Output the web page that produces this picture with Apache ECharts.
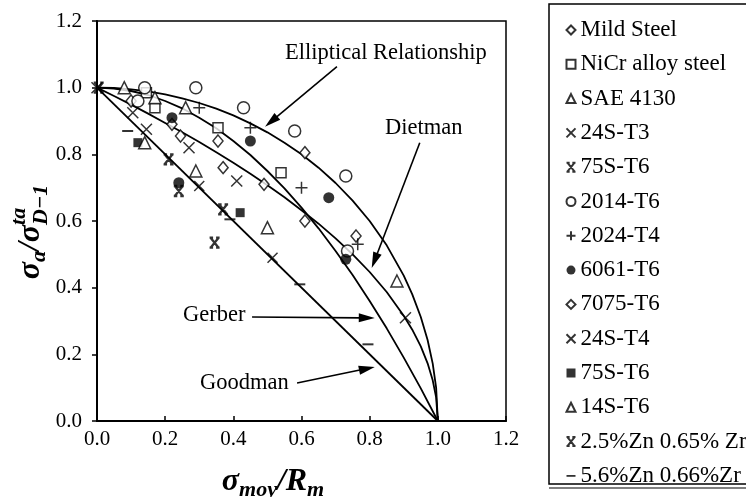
<!DOCTYPE html>
<html>
<head>
<meta charset="utf-8">
<title>Goodman / Gerber / Dietman / Elliptical</title>
<script src="https://cdn.jsdelivr.net/npm/echarts@6/dist/echarts.min.js"></script>
<style>
  html, body { margin: 0; padding: 0; background: #fff; }
  #chart { width: 746px; height: 497px; }
</style>
</head>
<body>
<div id="chart"></div>
<script>
var FONT = '"Liberation Serif", "DejaVu Serif", serif';

// curves (sigma_moy/Rm, sigma_a/sigma_D)
var curveGoodman = [[0, 1], [1, 0]];
var curveGerber = [[0, 1], [0.05, 0.997], [0.1, 0.99], [0.15, 0.978], [0.2, 0.96], [0.25, 0.938], [0.3, 0.91],
                   [0.35, 0.878], [0.4, 0.84], [0.45, 0.798], [0.5, 0.75], [0.55, 0.698], [0.6, 0.64], [0.65, 0.578],
                   [0.7, 0.51], [0.75, 0.438], [0.8, 0.36], [0.85, 0.278], [0.9, 0.19], [0.95, 0.098], [1, 0]];
var curveDietman = [[0, 1], [0.05, 0.975], [0.1, 0.949], [0.15, 0.922], [0.2, 0.894], [0.25, 0.866], [0.3, 0.837],
                    [0.35, 0.806], [0.4, 0.775], [0.45, 0.742], [0.5, 0.707], [0.55, 0.671], [0.6, 0.632], [0.65, 0.592],
                    [0.7, 0.548], [0.75, 0.5], [0.8, 0.447], [0.85, 0.387], [0.9, 0.316], [0.925, 0.274], [0.95, 0.224],
                    [0.97, 0.173], [0.985, 0.122], [0.995, 0.071], [1, 0]];
var curveEllipse = [[0, 1], [0.05, 0.999], [0.1, 0.995], [0.15, 0.989], [0.2, 0.98], [0.25, 0.968], [0.3, 0.954],
                    [0.35, 0.937], [0.4, 0.917], [0.45, 0.893], [0.5, 0.866], [0.55, 0.835], [0.6, 0.8], [0.65, 0.76],
                    [0.7, 0.714], [0.75, 0.661], [0.8, 0.6], [0.85, 0.527], [0.9, 0.436], [0.925, 0.38], [0.95, 0.312],
                    [0.97, 0.243], [0.985, 0.172], [0.995, 0.1], [1, 0]];

// test points, one array per material
var mildSteel = [[0.10, 0.96], [0.22, 0.89], [0.245, 0.855], [0.61, 0.805], [0.76, 0.555]];
var nicrSteel = [[0.145, 0.985], [0.17, 0.94], [0.355, 0.88], [0.54, 0.745]];
var sae4130 = [[0.08, 1.0], [0.17, 0.97], [0.26, 0.94], [0.88, 0.42]];
var al24sT3 = [[0.0, 1.0], [0.105, 0.925], [0.145, 0.875], [0.27, 0.82], [0.41, 0.72], [0.905, 0.31]];
var al75sT6 = [[0.005, 1.0], [0.21, 0.785], [0.24, 0.69]];
var al2014T6 = [[0.14, 1.0], [0.29, 1.0], [0.12, 0.96], [0.43, 0.94], [0.58, 0.87], [0.73, 0.735], [0.735, 0.51]];
var al2024T4 = [[0.30, 0.94], [0.45, 0.88], [0.60, 0.70], [0.765, 0.53]];
var al6061T6 = [[0.22, 0.91], [0.45, 0.84], [0.68, 0.67], [0.24, 0.715], [0.73, 0.485]];
var al7075T6 = [[0.355, 0.84], [0.37, 0.76], [0.49, 0.71], [0.61, 0.60]];
var al24sT4 = [[0.30, 0.705], [0.515, 0.49]];
var al75sT6b = [[0.12, 0.835], [0.42, 0.625]];
var al14sT6 = [[0.14, 0.835], [0.29, 0.75], [0.50, 0.58]];
var zn25 = [[0.345, 0.535], [0.37, 0.635]];
var zn56 = [[0.09, 0.87], [0.39, 0.605], [0.595, 0.41], [0.795, 0.23]];

// annotation arrows, in data coordinates [from, to]
var arrows = [
    [[0.704, 1.063], [0.493, 0.883]],
    [[0.947, 0.835], [0.806, 0.459]],
    [[0.455, 0.312], [0.815, 0.309]],
    [[0.587, 0.114], [0.815, 0.162]]
];

var CROSS = 'path://M0,0L10,10M10,0L0,10';
var PLUS = 'path://M5,0L5,10M0,5L10,5';
var STARX = 'path://M1,0L9,10M9,0L1,10M0,0L3.5,0M6.5,0L10,0M0,10L3.5,10M6.5,10L10,10';
var DASH = 'path://M0,0L10,0L10,2L0,2Z';

var white = { color: '#fff', borderColor: '#000', borderWidth: 1.5 };
var solid = { color: '#000', borderColor: '#000', borderWidth: 0 };
var stroke = { color: 'none', borderColor: '#000', borderWidth: 1.5 };
var bold = { color: 'none', borderColor: '#000', borderWidth: 2.3 };

var materials = [
    { name: 'Mild Steel', data: mildSteel, symbol: 'diamond', size: [10, 12], style: white },
    { name: 'NiCr alloy steel', data: nicrSteel, symbol: 'rect', size: 10, style: white },
    { name: 'SAE 4130', data: sae4130, symbol: 'triangle', size: 12, style: white },
    { name: '24S-T3', data: al24sT3, symbol: CROSS, size: 11, style: stroke },
    { name: '75S-T6', data: al75sT6, symbol: STARX, size: 10, style: bold },
    { name: '2014-T6', data: al2014T6, symbol: 'circle', size: 12, style: white },
    { name: '2024-T4', data: al2024T4, symbol: PLUS, size: 12, style: stroke },
    { name: '6061-T6', data: al6061T6, symbol: 'circle', size: 11, style: solid },
    { name: '7075-T6', data: al7075T6, symbol: 'diamond', size: [10, 12], style: white },
    { name: '24S-T4', data: al24sT4, symbol: CROSS, size: 10, style: stroke },
    { name: '75S-T6 ', data: al75sT6b, symbol: 'rect', size: 9, style: solid },
    { name: '14S-T6', data: al14sT6, symbol: 'triangle', size: 12, style: white },
    { name: '2.5%Zn 0.65% Zr', data: zn25, symbol: STARX, size: 10, style: bold },
    { name: '5.6%Zn 0.66%Zr', data: zn56, symbol: 'rect', size: [11, 2], style: solid, icon: DASH }
];

var chart = echarts.init(document.getElementById('chart'));

var series = [];
[curveGoodman, curveGerber, curveDietman, curveEllipse].forEach(function (c, i) {
    series.push({
        name: 'curve' + i,
        type: 'line',
        data: c,
        showSymbol: false,
        smooth: false,
        silent: true,
        z: 2,
        lineStyle: { color: '#000', width: 1.8, join: 'round' }
    });
});
materials.forEach(function (m) {
    series.push({
        name: m.name,
        type: 'scatter',
        data: m.data,
        symbol: m.symbol,
        symbolSize: m.size,
        z: 3,
        itemStyle: m.style
    });
});

var axisCommon = {
    type: 'value',
    min: 0,
    max: 1.2,
    interval: 0.2,
    splitLine: { show: false },
    axisLine: { lineStyle: { color: '#000', width: 2 } },
    axisTick: { length: 5, lineStyle: { color: '#000', width: 1.5 } },
    axisLabel: {
        color: '#000',
        fontFamily: FONT,
        fontSize: 21,
        formatter: function (v) { return v.toFixed(1); }
    }
};

chart.setOption({
    animation: false,
    backgroundColor: '#fff',
    grid: { left: 97, right: 240, top: 21, bottom: 76, show: true, borderColor: '#000', borderWidth: 1.5 },
    xAxis: echarts.util.merge({ axisTick: { inside: true }, axisLabel: { margin: 8 } }, axisCommon, false),
    yAxis: echarts.util.merge({ axisLabel: { margin: 15 } }, axisCommon, false),
    legend: {
        orient: 'vertical',
        left: 559,
        top: 13,
        itemWidth: 9,
        itemHeight: 9,
        itemGap: 10.3,
        selectedMode: false,
        textStyle: { fontFamily: FONT, fontSize: 23, color: '#000', lineHeight: 24 },
        data: materials.map(function (m) {
            return m.icon ? { name: m.name, icon: m.icon } : m.name;
        })
    },
    series: series
});

// math-style axis titles built from small text pieces
var measure = document.createElement('canvas').getContext('2d');
var MAIN = 'bold italic 32px ' + FONT;
var SUB = 'bold italic 22px ' + FONT;

function mathLabel(parts, cx, cy, vertical) {
    var children = [];
    var cur = 0;
    parts.forEach(function (stack) {
        var w = 0;
        stack.forEach(function (p) {
            measure.font = p.f;
            w = Math.max(w, measure.measureText(p.t).width);
            children.push({
                type: 'text',
                x: cur,
                y: p.dy,
                style: { text: p.t, font: p.f, fill: '#000', verticalAlign: 'middle' }
            });
        });
        cur += w;
    });
    if (vertical) {
        return { type: 'group', x: cx, y: cy + cur / 2, rotation: Math.PI / 2, children: children };
    }
    return { type: 'group', x: cx - cur / 2, y: cy, children: children };
}

var xName = mathLabel([
    [{ t: 'σ', f: MAIN, dy: 0 }],
    [{ t: 'moy', f: SUB, dy: 8 }],
    [{ t: '/R', f: MAIN, dy: 0 }],
    [{ t: 'm', f: SUB, dy: 8 }]
], 273, 482, false);

var yName = mathLabel([
    [{ t: 'σ', f: MAIN, dy: 0 }],
    [{ t: 'a', f: SUB, dy: 8 }],
    [{ t: '/σ', f: MAIN, dy: 0 }],
    [{ t: 'ta', f: SUB, dy: -12 }, { t: 'D−1', f: SUB, dy: 10 }]
], 31, 232, true);

function noteText(text, x, y) {
    return {
        type: 'text', x: x, y: y,
        style: { text: text, font: '22.5px ' + FONT, fill: '#000', verticalAlign: 'middle' }
    };
}

var graphics = [
    { type: 'rect', shape: { x: 549, y: 4, width: 220, height: 480 },
      style: { fill: 'none', stroke: '#000', lineWidth: 1.5 } },
    { type: 'line', shape: { x1: 549, y1: 488, x2: 746, y2: 488 },
      style: { stroke: '#000', lineWidth: 1.2 } },
    xName,
    yName,
    noteText('Elliptical Relationship', 285, 53),
    noteText('Dietman', 385, 128),
    noteText('Gerber', 183, 315),
    noteText('Goodman', 200, 383)
];

arrows.forEach(function (a) {
    var p0 = chart.convertToPixel({ gridIndex: 0 }, a[0]);
    var p1 = chart.convertToPixel({ gridIndex: 0 }, a[1]);
    var dx = p1[0] - p0[0], dy = p1[1] - p0[1];
    var len = Math.sqrt(dx * dx + dy * dy);
    var ux = dx / len, uy = dy / len;
    var hl = 16, hw = 4.5;
    var bx = p1[0] - ux * hl, by = p1[1] - uy * hl;
    graphics.push({
        type: 'line',
        shape: { x1: p0[0], y1: p0[1], x2: bx + ux * 2, y2: by + uy * 2 },
        style: { stroke: '#000', lineWidth: 1.6 }
    });
    graphics.push({
        type: 'polygon',
        shape: { points: [[p1[0], p1[1]], [bx - uy * hw, by + ux * hw], [bx + uy * hw, by - ux * hw]] },
        style: { fill: '#000' }
    });
});

chart.setOption({ graphic: graphics });
</script>
</body>
</html>
